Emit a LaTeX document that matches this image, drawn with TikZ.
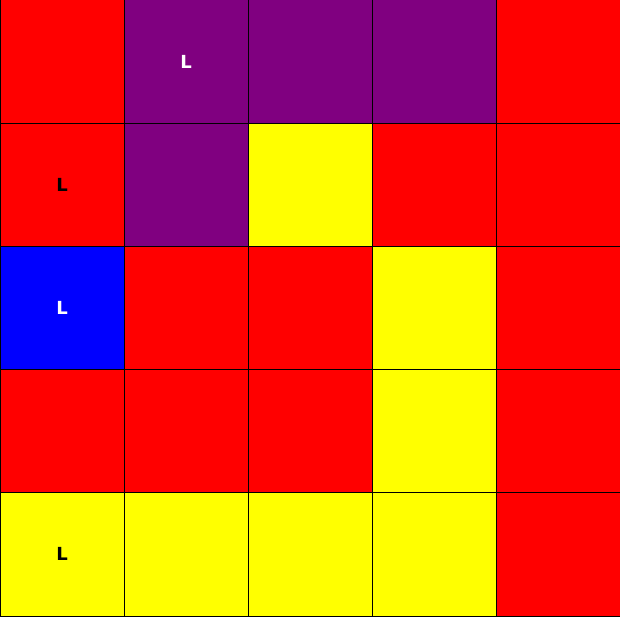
\documentclass[tikz,border=0pt]{standalone}
\usepackage{fontspec}
\setmainfont{DejaVu Sans}
\definecolor{cR}{RGB}{255,0,0}
\definecolor{cP}{RGB}{128,0,128}
\definecolor{cY}{RGB}{255,255,0}
\definecolor{cB}{RGB}{0,0,255}
\begin{document}
\begin{tikzpicture}[x=1pt,y=1pt,
  cell/.style={draw=black,line width=1pt,minimum width=124pt,minimum height=123.2pt,inner sep=0pt,outer sep=0pt,font=\bfseries\fontsize{18}{18}\selectfont}]
\useasboundingbox (0,0) rectangle (620,616);
\foreach \r/\c/\col/\lab/\tc in {
 0/0/cR//black, 0/1/cP/L/white, 0/2/cP//black, 0/3/cP//black, 0/4/cR//black,
 1/0/cR/L/black, 1/1/cP//black, 1/2/cY//black, 1/3/cR//black, 1/4/cR//black,
 2/0/cB/L/white, 2/1/cR//black, 2/2/cR//black, 2/3/cY//black, 2/4/cR//black,
 3/0/cR//black, 3/1/cR//black, 3/2/cR//black, 3/3/cY//black, 3/4/cR//black,
 4/0/cY/L/black, 4/1/cY//black, 4/2/cY//black, 4/3/cY//black, 4/4/cR//black}
 {\node[cell,fill=\col,text=\tc] (c\r\c) at ({62+124*\c},{616-61.6-123.2*\r}) {\lab};}
\end{tikzpicture}
\end{document}
